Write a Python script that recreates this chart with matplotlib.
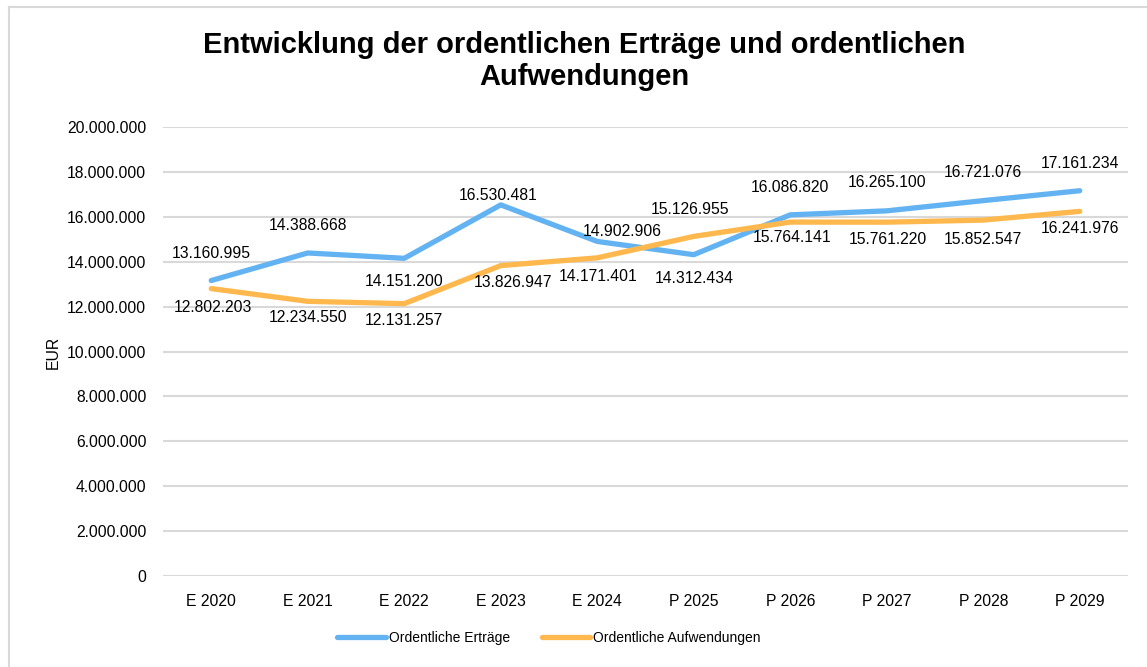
import matplotlib
matplotlib.use("Agg")
import matplotlib.pyplot as plt
from matplotlib.lines import Line2D

plt.rcParams['font.family'] = ['Liberation Sans', 'DejaVu Sans']

categories = ["E 2020", "E 2021", "E 2022", "E 2023", "E 2024",
              "P 2025", "P 2026", "P 2027", "P 2028", "P 2029"]
ertraege = [13160995, 14388668, 14151200, 16530481, 14902906,
            14312434, 16086820, 16265100, 16721076, 17161234]
aufwendungen = [12802203, 12234550, 12131257, 13826947, 14171401,
                15126955, 15764141, 15761220, 15852547, 16241976]
yticks = list(range(0, 20000001, 2000000))

# label offsets in pixels (dx, dy), dy positive = up
off_ert = [(0, 27), (0, 27), (0, -23), (-3, 9), (25, 10),
           (0, -24), (0, 27), (0, 28), (0, 28), (0, 27)]
off_auf = [(2, -19), (0, -16), (0, -17), (12, -17), (1, -19),
           (-4, 27), (2, -15), (1, -17), (0, -19), (0, -17)]

W, H = 1147, 667
fig = plt.figure(figsize=(W / 100, H / 100), dpi=100)
fig.patch.set_facecolor('white')

# chart frame (left and top edges visible)
fig.add_artist(Line2D([8.5 / W, 8.5 / W], [0, 1 - 6.5 / H], transform=fig.transFigure,
                      color='#D9D9D9', lw=1.5))
fig.add_artist(Line2D([8.5 / W, 1], [1 - 6.5 / H, 1 - 6.5 / H], transform=fig.transFigure,
                      color='#D9D9D9', lw=1.5))

left, right = 163 / W, 1128 / W
top, bottom = 1 - 127 / H, 1 - 576 / H
ax = fig.add_axes([left, bottom, right - left, top - bottom])

def fmt(v):
    return f"{v:,}".replace(",", ".")

x = list(range(len(categories)))
blue = '#63B3F3'
orange = '#FFB84D'
ax.plot(x, ertraege, color=blue, lw=3.8, solid_capstyle='round', solid_joinstyle='round', zorder=3)
ax.plot(x, aufwendungen, color=orange, lw=3.8, solid_capstyle='round', solid_joinstyle='round', zorder=3)

for i, v in enumerate(ertraege):
    ax.annotate(fmt(v), (i, v), xytext=off_ert[i], textcoords='offset pixels',
                ha='center', va='center', fontsize=11.3, color='#000000', zorder=4)
for i, v in enumerate(aufwendungen):
    ax.annotate(fmt(v), (i, v), xytext=off_auf[i], textcoords='offset pixels',
                ha='center', va='center', fontsize=11.3, color='#000000', zorder=4)

ax.set_xlim(-0.5, len(categories) - 0.5)
ax.set_ylim(0, 20000000)
ax.set_yticks(yticks)
ax.set_yticklabels([fmt(t) for t in yticks], fontsize=11.3)
ax.set_xticks(x)
ax.set_xticklabels(categories, fontsize=11.3)
ax.tick_params(axis='both', length=0, pad=12, colors='#000000')
ax.tick_params(axis='x', pad=13)
ax.grid(axis='y', color='#D9D9D9', lw=1.5)
ax.set_axisbelow(True)
for s in ax.spines.values():
    s.set_visible(False)

ax.set_ylabel("EUR", fontsize=11.3)
ax.yaxis.set_label_coords((61 - 163) / (1128 - 163), (576 - 352) / (576 - 127))

fig.text(584 / W, 1 - 61 / H, "Entwicklung der ordentlichen Erträge und ordentlichen\nAufwendungen",
         ha='center', va='center', fontsize=21, fontweight='bold', linespacing=1.15)

handles = [Line2D([], [], color=blue, lw=3.8, solid_capstyle='round'),
           Line2D([], [], color=orange, lw=3.8, solid_capstyle='round')]
fig.legend(handles, ["Ordentliche Erträge", "Ordentliche Aufwendungen"],
           loc='center', bbox_to_anchor=(549 / W, 1 - 638 / H), ncol=2, frameon=False,
           fontsize=10, handlelength=3.5, handletextpad=0.2, columnspacing=2.3)

fig.savefig("out.png", dpi=100, facecolor='white')
